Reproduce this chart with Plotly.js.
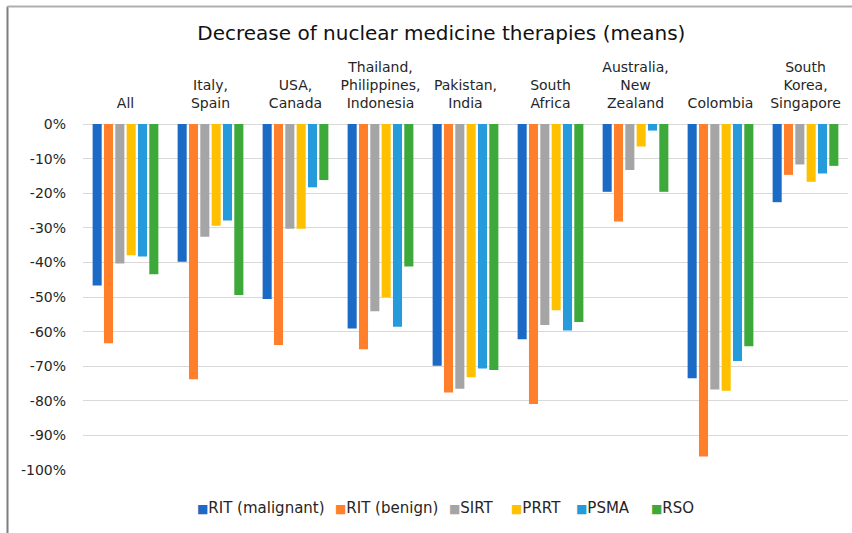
<!DOCTYPE html>
<html>
<head>
<meta charset="utf-8">
<script src="https://cdn.plot.ly/plotly-3.0.1.min.js"></script>
<style>html,body{margin:0;padding:0;background:#fff;}#chart{width:852px;height:533px;}</style>
</head>
<body>
<div id="chart"></div>
<script>
const categories = ["All", "Italy,<br>Spain", "USA,<br>Canada", "Thailand,<br>Philippines,<br>Indonesia", "Pakistan,<br>India", "South<br>Africa", "Australia,<br>New<br>Zealand", "Colombia", "South<br>Korea,<br>Singapore"];
const seriesNames = ["RIT (malignant)", "RIT (benign)", "SIRT", "PRRT", "PSMA", "RSO"];
const ritMalignant = [-0.467, -0.398, -0.506, -0.591, -0.699, -0.622, -0.196, -0.735, -0.226];
const ritBenign    = [-0.634, -0.738, -0.639, -0.651, -0.776, -0.809, -0.282, -0.961, -0.147];
const sirt         = [-0.403, -0.326, -0.303, -0.541, -0.765, -0.581, -0.133, -0.767, -0.117];
const prrt         = [-0.379, -0.294, -0.303, -0.501, -0.732, -0.538, -0.065, -0.771, -0.167];
const psma         = [-0.383, -0.279, -0.183, -0.586, -0.707, -0.597, -0.019, -0.685, -0.143];
const rso          = [-0.434, -0.494, -0.162, -0.412, -0.711, -0.572, -0.196, -0.642, -0.121];
const yTickVals = [0, -0.1, -0.2, -0.3, -0.4, -0.5, -0.6, -0.7, -0.8, -0.9, -1.0];
const yTickText = ["0%", "-10%", "-20%", "-30%", "-40%", "-50%", "-60%", "-70%", "-80%", "-90%", "-100%"];
const colors = ["#1B6AC6", "#FF7F2A", "#A5A5A5", "#FFC000", "#259BDB", "#3DA93A"];

const allSeries = [ritMalignant, ritBenign, sirt, prrt, psma, rso];
const data = allSeries.map((vals, i) => ({
  type: "bar",
  name: seriesNames[i],
  x: categories,
  y: vals,
  marker: {color: colors[i]},
  hoverinfo: "x+y+name"
}));

// plot area in pixels (for converting legend/border placement to paper coords)
const PL = 83, PR = 848, PT = 124, PB = 470;
const px2x = p => (p - PL) / (PR - PL);
const px2y = p => (PB - p) / (PB - PT);

// manual legend placement (left pixel of each entry's square)
const legendLeft = [196, 334, 448, 510, 575, 650];
const legendAnnotations = seriesNames.map((name, i) => ({
  xref: "paper", yref: "paper",
  x: px2x(legendLeft[i]), y: px2y(508),
  xanchor: "left", yanchor: "middle",
  showarrow: false,
  text: "<span style='color:" + colors[i] + ";font-size:12px'>■</span>" + name,
  font: {family: "DejaVu Sans, sans-serif", size: 15, color: "#262626"},
  borderpad: 0
}));

const layout = {
  width: 852,
  height: 533,
  paper_bgcolor: "#fff",
  plot_bgcolor: "#fff",
  font: {family: "DejaVu Sans, sans-serif", color: "#262626", size: 14},
  title: {text: "Decrease of nuclear medicine therapies (means)", font: {size: 20, color: "#111"}, x: 0.518, xanchor: "center", y: 0.938, yanchor: "middle", xref: "container", yref: "container"},
  margin: {l: PL, r: 852 - PR, t: PT, b: 533 - PB},
  barmode: "group",
  bargap: 0.2,
  bargroupgap: 0.2,
  xaxis: {
    side: "top",
    showgrid: false,
    showline: false,
    zeroline: false,
    ticks: "",
    tickfont: {size: 14, color: "#262626"},
    ticklabelstandoff: 12
  },
  yaxis: {
    range: [-1.0, 0],
    tickvals: yTickVals,
    ticktext: yTickText,
    showgrid: true,
    gridcolor: "#D9D9D9",
    gridwidth: 1,
    zeroline: true,
    zerolinecolor: "#D9D9D9",
    zerolinewidth: 1,
    showline: false,
    ticks: "",
    tickfont: {size: 14, color: "#262626"},
    ticklabelstandoff: 16
  },
  showlegend: false,
  annotations: legendAnnotations,
  shapes: [
    {type: "line", xref: "paper", yref: "paper", x0: px2x(7.5), x1: px2x(7.5), y0: px2y(6.5), y1: px2y(540), line: {color: "#7F7F7F", width: 2}},
    {type: "line", xref: "paper", yref: "paper", x0: px2x(7.5), x1: px2x(860), y0: px2y(6.5), y1: px2y(6.5), line: {color: "#AFAFAF", width: 2}}
  ]
};

Plotly.newPlot("chart", data, layout, {displayModeBar: false, staticPlot: true});
</script>
</body>
</html>
